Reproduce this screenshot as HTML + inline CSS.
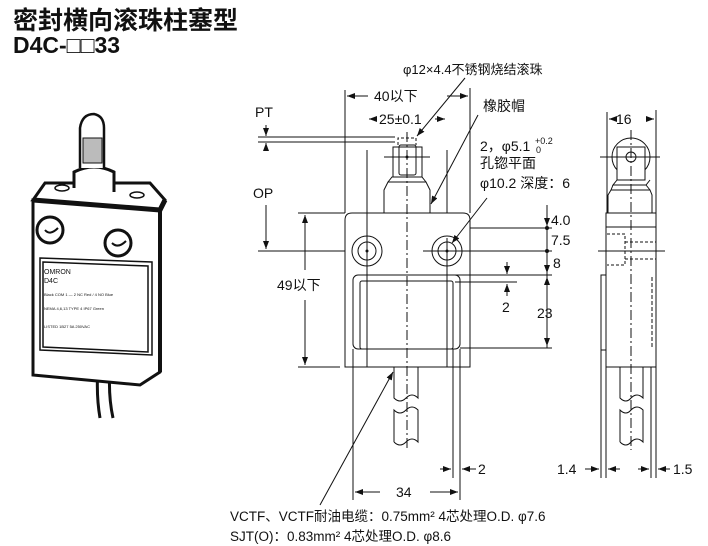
<!DOCTYPE html>
<html><head><meta charset="utf-8"><style>
body{margin:0;background:#fff;width:708px;height:546px;overflow:hidden}
svg{display:block}
text{font-family:"Liberation Sans","Noto Sans CJK SC",sans-serif;fill:#111}
</style></head><body>
<svg width="708" height="546" viewBox="0 0 708 546" xmlns="http://www.w3.org/2000/svg">
<defs>
<marker id="a" markerWidth="8" markerHeight="6" refX="8" refY="3" orient="auto" markerUnits="userSpaceOnUse"><path d="M0,0 L8,3 L0,6 Z" fill="#111"/></marker>
</defs>
<text x="13" y="29" font-size="25" font-weight="bold">密封横向滚珠柱塞型</text>
<text x="13" y="53" font-size="23" font-weight="bold">D4C-□□33</text>

<!-- photo -->
<g stroke="#111" fill="none" stroke-width="1.5">
<path d="M98,368 Q96,395 100,418 M110,368 Q108,395 113,418" stroke-width="3"/>
<path d="M33,375 L33,200 L160,210 L160,372 L140,385 Z" fill="#fff" stroke-width="3"/>
<path d="M33,200 L45,183 L150,183 L165,200 L160,210 Z" fill="#fff" stroke-width="3"/>
<path d="M33,200 L160,210 L165,200" stroke-width="5"/>
<path d="M160,210 L160,372" stroke-width="4"/>
<path d="M40,258 L152,262 L152,355 L40,350 Z"/>
<path d="M43,262 L148,266 L148,352 L43,347 Z"/>
<circle cx="50" cy="230" r="13" stroke-width="3"/><circle cx="118" cy="243" r="13" stroke-width="3"/>
<path d="M45,230 Q50,236 58,228 M112,243 Q118,249 126,241" stroke-width="2"/>
<ellipse cx="62" cy="188" rx="7" ry="3"/><ellipse cx="137" cy="195" rx="7" ry="3"/>
<path d="M74,188 L74,172 Q94,162 114,172 L114,192" fill="#fff" stroke-width="3"/>
<path d="M80,168 L80,128 Q82,114 94,114 Q104,116 104,128 L104,168" fill="#fff" stroke-width="2.5"/>
<rect x="83" y="138" width="19" height="25" fill="#bbb" stroke-width="1"/>
</g>
<text x="44" y="274" font-size="7">OMRON</text>
<text x="44" y="283" font-size="7">D4C</text>
<text x="44" y="296" font-size="4">Black COM 1 — 2 NC Red / 4 NO Blue</text>
<text x="44" y="310" font-size="4">NEMA 4,6,13 TYPE 4 IP67  Green</text>
<text x="44" y="328" font-size="4">LISTED 1B27  5A 250VAC</text>

<g stroke="#111" stroke-width="1" fill="none">
<path d="M345,367 L345,220 Q345,213 352,213 L463,213 Q470,213 470,220 L470,367 Z" fill="#fff"/>
<rect x="353" y="275" width="107" height="74" rx="5"/>
<rect x="360" y="281" width="93" height="68" rx="2"/>
<path d="M384,213 L384,190 L388,182 L426,182 L430,190 L430,213"/>
<path d="M388,182 L392,177 L422,177 L426,182"/>
<rect x="393" y="147" width="29" height="30"/>
<rect x="399" y="145" width="17" height="30" rx="2"/>
<path d="M398,145 L398,138 L416,138 L416,145" stroke-dasharray="3,2"/>
<path d="M384,157 L430,157"/>
<circle cx="367" cy="251" r="15"/><circle cx="367" cy="251" r="9"/>
<circle cx="447" cy="251" r="15"/><circle cx="447" cy="251" r="9"/>
<circle cx="367" cy="251" r="1" fill="#111"/><circle cx="447" cy="251" r="1" fill="#111"/><circle cx="407" cy="157" r="1" fill="#111"/>
<path d="M407,132 L407,450" stroke-dasharray="10,3,2,3"/>
<path d="M367,150 L367,367 M447,150 L447,213 M447,238 L447,367"/>
<path d="M394,367 L394,398 Q400,404 406,398 Q412,392 418,398 L418,367"/>
<path d="M394,442 L394,410 Q400,416 406,410 Q412,404 418,410 L418,442 Q412,436 406,442 Q400,448 394,442"/>
<path d="M345,213 L345,90 M470,213 L470,88"/>
<path d="M368,96 L347,96" marker-end="url(#a)"/><path d="M447,96 L468,96" marker-end="url(#a)"/>
<path d="M375,119 L369,119" marker-end="url(#a)"/><path d="M435,119 L445,119" marker-end="url(#a)"/>
<path d="M258,137 L395,137 M258,142 L395,142"/>
<path d="M266,125 L266,136" marker-end="url(#a)"/>
<path d="M266,150 L266,143" marker-end="url(#a)"/><path d="M266,205 L266,249" marker-end="url(#a)"/>
<path d="M258,251 L345,251 M423,251 L552,251"/>
<path d="M298,213 L345,213 M298,367 L340,367"/>
<path d="M305,270 L305,215" marker-end="url(#a)"/><path d="M305,300 L305,365" marker-end="url(#a)"/>
<path d="M470,228 L552,228 M455,275 L552,275 M455,282 L517,282 M460,348 L552,348"/>
<path d="M547,207 L547,213 M547,228 L547,348"/>
<path d="M547,205 L547,226" marker-end="url(#a)"/>
<circle cx="547" cy="228" r="1.5" fill="#111"/><circle cx="547" cy="251" r="1.5" fill="#111"/>
<path d="M547,262 L547,273" marker-end="url(#a)"/>
<path d="M547,295 L547,277" marker-end="url(#a)"/><path d="M547,330 L547,346" marker-end="url(#a)"/>
<path d="M507,262 L507,274" marker-end="url(#a)"/><path d="M507,296 L507,284" marker-end="url(#a)"/>
<path d="M353,349 L353,500 M453,349 L453,478 M460,349 L460,500"/>
<path d="M440,469 L451,469" marker-end="url(#a)"/><path d="M476,469 L462,469" marker-end="url(#a)"/>
<path d="M380,492 L355,492" marker-end="url(#a)"/><path d="M430,492 L458,492" marker-end="url(#a)"/>
<path d="M320,505 L393,372" marker-end="url(#a)"/>
<path d="M465,78 L417,136" marker-end="url(#a)"/>
<path d="M478,115 L431,204" marker-end="url(#a)"/>
<path d="M487,198 L452,243" marker-end="url(#a)"/>

<rect x="606" y="213" width="50" height="154" fill="#fff"/>
<path d="M606,227 L656,227"/>
<circle cx="631" cy="157" r="19"/>
<rect x="617" y="147" width="28" height="33" fill="#fff"/>
<circle cx="631" cy="157" r="5" fill="#fff"/>
<path d="M617,180 L613,185 L646,185 L650,180 M611,190 L650,190 L652,195 L652,213 M611,190 L608,195 L608,213 M613,185 L611,190 M646,185 L650,190"/>
<path d="M631,130 L631,450" stroke-dasharray="10,3,2,3"/>
<path d="M600,157 L660,157 M598,251 L665,251"/>
<path d="M607,234 L625,234 L625,265 L607,265 M625,242 L656,242 M625,259 L656,259" stroke-dasharray="3,2"/>
<path d="M652,277 L652,348" stroke-dasharray="4,2"/>
<path d="M601,275 L606,275 L606,350 L601,350 Z"/>
<path d="M620,367 L620,398 Q626,404 631,398 Q637,392 643,398 L643,367"/>
<path d="M620,442 L620,410 Q626,416 631,410 Q637,404 643,410 L643,442 Q637,436 631,442 Q626,448 620,442"/>
<path d="M607,213 L607,112 M656,213 L656,110"/>
<path d="M615,119 L609,119" marker-end="url(#a)"/><path d="M647,119 L654,119" marker-end="url(#a)"/>
<path d="M601,350 L601,478 M606,367 L606,478 M651,367 L651,478 M656,367 L656,478"/>
<path d="M585,469 L599,469" marker-end="url(#a)"/><path d="M620,469 L608,469" marker-end="url(#a)"/>
<path d="M638,469 L649,469" marker-end="url(#a)"/><path d="M670,469 L658,469" marker-end="url(#a)"/>
</g>
<g font-size="14">
<text x="403" y="74" font-size="13">φ12×4.4不锈钢烧结滚珠</text>
<text x="374" y="101">40以下</text>
<text x="379" y="124">25±0.1</text>
<text x="255" y="117">PT</text>
<text x="253" y="198">OP</text>
<text x="483" y="111">橡胶帽</text>
<text x="480" y="151">2，φ5.1</text><text x="535" y="144" font-size="9">+0.2</text><text x="536" y="153" font-size="9">0</text>
<text x="480" y="168">孔锪平面</text>
<text x="480" y="188">φ10.2 深度：6</text>
<text x="551" y="225">4.0</text>
<text x="551" y="245">7.5</text>
<text x="553" y="268">8</text>
<text x="502" y="312">2</text>
<text x="537" y="318">23</text>
<text x="277" y="290">49以下</text>
<text x="478" y="474">2</text>
<text x="396" y="497">34</text>
<text x="557" y="474">1.4</text>
<text x="673" y="474">1.5</text>
<text x="616" y="124">16</text>
<text x="230" y="521" font-size="13.5">VCTF、VCTF耐油电缆：0.75mm² 4芯处理O.D. φ7.6</text>
<text x="230" y="541" font-size="13.5">SJT(O)：0.83mm² 4芯处理O.D. φ8.6</text>
</g>
</svg>
</body></html>
